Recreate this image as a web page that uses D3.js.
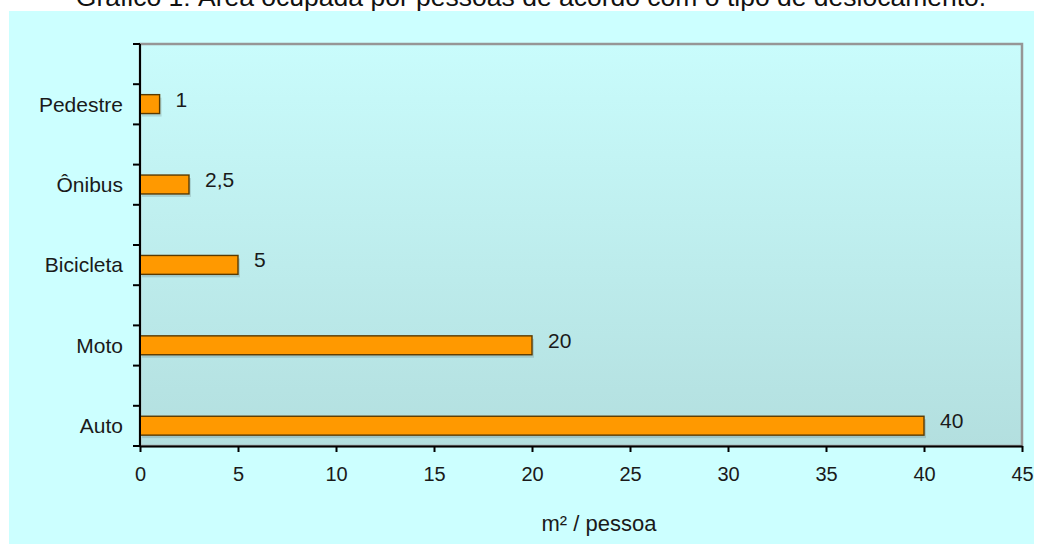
<!DOCTYPE html>
<html>
<head>
<meta charset="utf-8">
<script src="https://cdn.jsdelivr.net/npm/d3@7"></script>
<style>
    body { margin: 0; background: #fff; }
    svg { display: block; font-family: "Liberation Sans", Arial, sans-serif; }
</style>
</head>
<body>
<svg id="chart" width="1040" height="544"></svg>
<script>
// Área ocupada por pessoa (m²) por tipo de deslocamento
const categories = ['Pedestre', 'Ônibus', 'Bicicleta', 'Moto', 'Auto'];
const values = [1, 2.5, 5, 20, 40];
const valueLabels = ['1', '2,5', '5', '20', '40'];
const xTicks = [0, 5, 10, 15, 20, 25, 30, 35, 40, 45];

const svg = d3.select('#chart');
const width = 1040, height = 544;

const margin = { top: 44, right: 18, bottom: 98, left: 140 };
const innerWidth = width - margin.left - margin.right;
const innerHeight = height - margin.top - margin.bottom;

// Title (cut at the top of the picture)
svg.append('text')
    .attr('x', 531)
    .attr('y', 6)
    .attr('text-anchor', 'middle')
    .attr('fill', '#111')
    .attr('font-size', '26.5px')
    .text('Gráfico 1: Área ocupada por pessoas de acordo com o tipo de deslocamento.');

// Chart area background
svg.append('rect')
    .attr('x', 9)
    .attr('y', 11)
    .attr('width', 1025)
    .attr('height', height - 11)
    .attr('fill', '#ccffff');

const defs = svg.append('defs');
const grad = defs.append('linearGradient')
    .attr('id', 'plotGrad')
    .attr('x1', 0).attr('y1', 0).attr('x2', 0).attr('y2', 1);
grad.append('stop').attr('offset', '0%').attr('stop-color', '#c9fcfc');
grad.append('stop').attr('offset', '100%').attr('stop-color', '#b3dfdf');

const g = svg.append('g')
    .attr('transform', `translate(${margin.left}, ${margin.top})`);

// Plot area with gray frame
g.append('rect')
    .attr('width', innerWidth)
    .attr('height', innerHeight)
    .attr('fill', 'url(#plotGrad)')
    .attr('stroke', '#969696')
    .attr('stroke-width', 2.5);

const x = d3.scaleLinear()
    .domain([0, 45])
    .range([0, innerWidth]);

const y = d3.scaleBand()
    .domain(categories)
    .range([0, innerHeight]);

const bw = y.bandwidth();

// Bar shadows (soft gray strip under each bar)
g.append('g')
    .selectAll('rect')
    .data(categories)
    .enter()
    .append('rect')
    .attr('x', x(0) + 2)
    .attr('y', d => y(d) + bw * 0.63 + 3)
    .attr('width', (d, i) => x(values[i]) - x(0))
    .attr('height', bw * 0.235)
    .attr('fill', '#000')
    .attr('opacity', 0.12);

// Bars
g.append('g')
    .selectAll('rect')
    .data(categories)
    .enter()
    .append('rect')
    .attr('x', x(0))
    .attr('y', d => y(d) + bw * 0.63)
    .attr('width', (d, i) => x(values[i]) - x(0))
    .attr('height', bw * 0.235)
    .attr('fill', '#ff9900')
    .attr('stroke', '#5a3a00')
    .attr('stroke-width', 1.4);

// Value labels
g.append('g')
    .selectAll('text')
    .data(categories)
    .enter()
    .append('text')
    .attr('x', (d, i) => x(values[i]) + 16)
    .attr('y', d => y(d) + bw * 0.75 - 5)
    .attr('dy', '0.35em')
    .attr('fill', '#1a1a1a')
    .attr('font-size', '21px')
    .text((d, i) => valueLabels[i]);

// Y axis: line, ticks at band edges and midpoints, category names
const yAxis = g.append('g');
yAxis.append('line')
    .attr('x1', 0).attr('x2', 0)
    .attr('y1', 0).attr('y2', innerHeight)
    .attr('stroke', '#000')
    .attr('stroke-width', 2);

const yTickPos = d3.range(0, categories.length * 2 + 1).map(k => k * bw / 2);
yAxis.selectAll('.ytick')
    .data(yTickPos)
    .enter()
    .append('line')
    .attr('x1', -7).attr('x2', 0)
    .attr('y1', d => d).attr('y2', d => d)
    .attr('stroke', '#000')
    .attr('stroke-width', 2);

yAxis.selectAll('.ylabel')
    .data(categories)
    .enter()
    .append('text')
    .attr('x', -17)
    .attr('y', d => y(d) + bw * 0.75)
    .attr('dy', '0.35em')
    .attr('text-anchor', 'end')
    .attr('fill', '#1a1a1a')
    .attr('font-size', '21px')
    .text(d => d);

// X axis
const xAxis = g.append('g')
    .attr('transform', `translate(0, ${innerHeight})`)
    .call(d3.axisBottom(x).tickValues(xTicks).tickSize(6).tickSizeOuter(0).tickPadding(15));

xAxis.select('.domain').attr('stroke', '#000').attr('stroke-width', 2);
xAxis.selectAll('.tick line').attr('stroke', '#000').attr('stroke-width', 2);
xAxis.selectAll('.tick text')
    .attr('fill', '#1a1a1a')
    .attr('font-size', '20px')
    .attr('font-family', '"Liberation Sans", Arial, sans-serif');

// Axis title
svg.append('text')
    .attr('x', 599)
    .attr('y', 531)
    .attr('text-anchor', 'middle')
    .attr('fill', '#1a1a1a')
    .attr('font-size', '22px')
    .text('m² / pessoa');
</script>
</body>
</html>
